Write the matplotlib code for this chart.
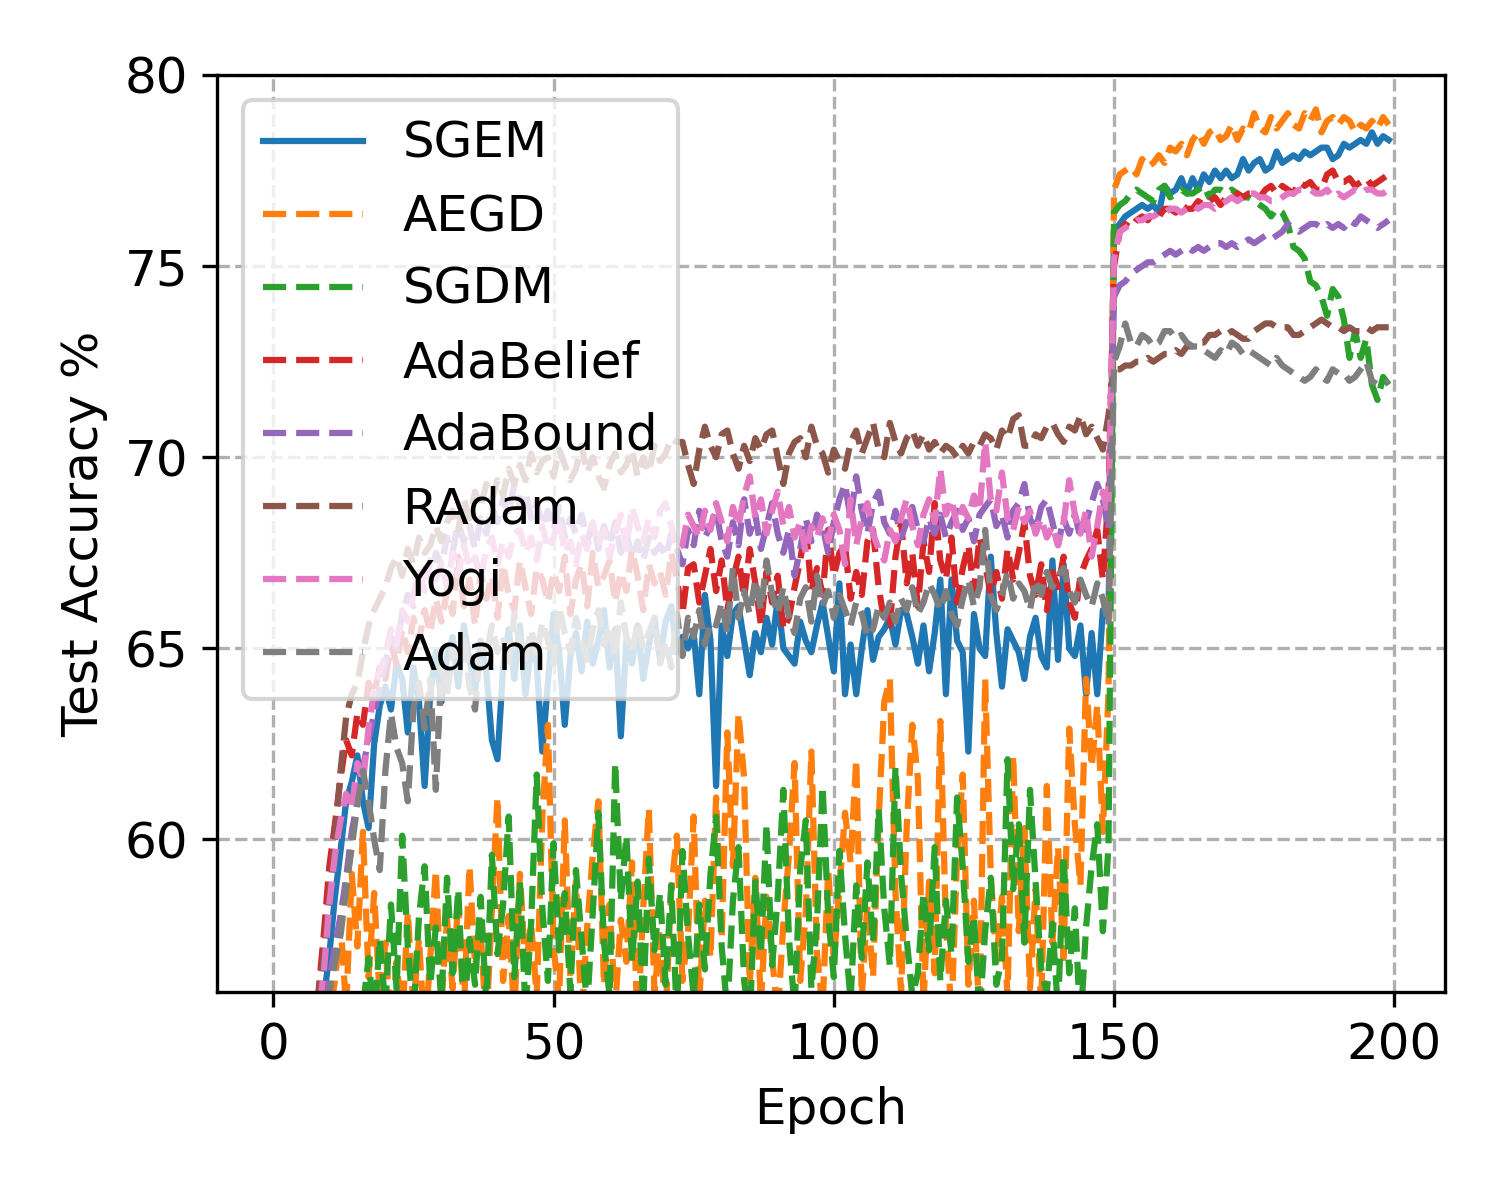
import numpy as np
import matplotlib
matplotlib.use("Agg")
from matplotlib import pyplot as plt

epochs = np.arange(200)

sgem = [
    20.0, 33.5, 40.2, 44.8, 48.1, 50.6, 52.4, 53.7, 54.8, 55.8,
    57.0, 58.5, 59.7, 61.0, 61.5, 62.2, 61.0, 60.3, 62.5, 63.5,
    64.0, 63.4, 64.6, 64.2, 62.8, 64.5, 63.6, 61.4, 63.8, 64.9,
    63.6, 64.8, 65.3, 64.0, 65.6, 64.7, 63.9, 65.2, 64.4, 62.6,
    62.1, 64.5, 65.5, 64.2, 65.6, 63.8, 65.0, 64.6, 62.3, 64.1,
    65.9, 64.9, 63.0, 64.8, 65.4, 64.4, 65.7, 64.6, 65.2, 66.0,
    64.5, 65.5, 62.7, 65.2, 64.6, 65.6, 64.2, 65.1, 65.8, 64.7,
    65.7, 66.1, 64.9, 65.3, 65.0, 65.4, 63.8, 66.4, 65.2, 61.4,
    65.6, 64.8, 65.9, 66.1, 65.2, 64.3, 65.4, 64.9, 65.8, 65.1,
    66.3, 65.0, 64.8, 64.6, 65.7, 65.2, 64.9, 65.6, 66.2, 65.3,
    64.4, 66.7, 63.8, 65.1, 63.8, 65.0, 66.0, 64.7, 65.3, 65.5,
    65.8, 65.1, 66.0, 65.9, 65.3, 64.6, 65.6, 64.4, 65.4, 66.8,
    63.8, 66.8, 65.2, 64.9, 62.3, 65.9, 65.0, 64.8, 67.4, 65.4,
    64.0, 65.5, 65.2, 64.9, 64.2, 65.3, 65.8, 64.8, 64.5, 67.3,
    64.7, 67.2, 65.0, 64.8, 65.6, 63.8, 65.4, 63.8, 66.0, 65.8,
    75.9, 76.1, 76.3, 76.4, 76.5, 76.6, 76.5, 76.6, 76.4, 77.1,
    76.9, 77.0, 77.3, 76.9, 77.3, 77.0, 77.4, 77.2, 77.5, 77.3,
    77.5, 77.3, 77.4, 77.8, 77.5, 77.7, 77.8, 77.5, 77.6, 78.0,
    77.7, 77.8, 77.9, 77.8, 78.0, 77.9, 78.0, 78.1, 78.1, 77.8,
    77.9, 78.2, 78.1, 78.2, 78.3, 78.2, 78.5, 78.2, 78.4, 78.3,
]

aegd = [
    15.0, 28.0, 35.0, 40.0, 44.0, 47.0, 49.5, 51.5, 53.0, 54.5,
    55.4, 56.3, 57.8, 55.6, 59.1, 57.2, 60.2, 56.4, 58.6, 55.8,
    57.3, 54.9, 56.8, 55.2, 58.1, 55.6, 57.4, 54.8, 56.9, 59.2,
    55.7, 57.9, 56.1, 58.4, 55.5, 59.3, 56.7, 57.6, 55.1, 58.2,
    61.1, 56.3, 58.0, 55.4, 59.1, 56.6, 57.8, 55.9, 60.6, 63.0,
    57.2, 55.8, 60.5, 56.4, 58.9, 55.3, 57.7, 59.6, 61.0, 56.2,
    58.3, 55.6, 57.9, 56.8, 59.4, 55.1, 58.2, 60.8, 56.0, 57.5,
    55.4, 58.7, 60.1, 56.3, 57.6, 60.6, 55.8, 58.4, 56.9, 61.1,
    57.4, 62.8, 59.3, 63.3, 61.6, 56.2, 59.0, 55.7, 58.5, 56.9,
    55.4, 57.8, 59.6, 62.0, 56.3, 58.1, 62.3, 57.0, 55.6, 59.2,
    56.8, 58.7, 60.7, 59.4, 62.1, 55.9, 58.3, 56.4, 60.5, 63.6,
    64.2, 58.6, 56.0, 60.3, 63.0, 61.6, 55.7, 58.9, 56.5, 63.1,
    57.8, 55.4, 59.6, 61.7, 56.2, 58.4, 55.3, 64.2, 59.1, 56.8,
    58.5, 55.9, 62.2, 57.6, 60.3, 56.1, 58.7, 55.6, 61.4, 57.3,
    59.8, 56.9, 62.9, 60.4, 58.8, 64.2, 61.9, 63.5, 60.2, 63.8,
    77.0, 77.4, 77.5, 77.6, 77.4, 77.8, 77.6, 77.7, 77.9, 77.7,
    78.1, 78.0, 78.2, 77.9, 78.3, 78.5, 78.2, 78.5, 78.6, 78.3,
    78.4, 78.7, 78.3, 78.6, 78.5, 79.0, 78.6, 78.5, 78.9, 78.6,
    78.8, 79.0, 78.7, 78.6, 79.0, 78.8, 79.1, 78.5, 78.8, 78.9,
    78.7, 78.9, 78.8, 78.5, 78.7, 78.6, 78.8, 78.6, 78.9, 78.7,
]

sgdm = [
    12.0, 25.0, 33.0, 38.0, 42.0, 45.0, 47.5, 49.5, 51.0, 52.0,
    52.8, 53.5, 54.2, 54.8, 55.3, 54.9, 55.6, 56.9, 55.2, 57.4,
    55.6, 58.3, 56.1, 60.1, 57.2, 55.4, 58.0, 59.3, 56.2, 57.7,
    55.8, 59.0, 56.5, 58.7, 55.3, 57.4, 56.2, 58.5, 55.7, 59.6,
    57.0, 58.3, 60.6, 56.4, 58.9, 55.5, 57.8, 61.7, 58.2, 56.3,
    59.9, 57.1, 58.6, 56.0, 59.2, 57.4, 55.6, 58.1, 60.7, 57.3,
    55.9, 62.0, 58.4, 60.1, 56.8, 58.9, 55.7, 59.5, 57.1, 58.6,
    56.2, 58.8, 55.4, 59.7, 57.5, 55.9, 58.3, 56.6, 59.1, 60.6,
    57.2, 55.5, 58.4, 59.8, 56.3, 55.2, 58.9, 57.0, 60.4, 56.7,
    58.5, 61.3, 57.4, 55.6, 59.2, 60.5, 56.1, 57.8, 61.4, 58.0,
    56.4, 59.7, 57.5, 55.8, 58.8, 56.9, 59.4, 57.3, 60.8, 58.2,
    56.7, 61.9, 59.1, 57.4, 55.9, 56.5, 58.6, 57.1, 59.8, 56.3,
    58.4, 57.0, 61.1, 59.3, 56.8, 58.0, 55.4, 57.6, 59.0, 56.2,
    56.9, 62.1, 58.7, 60.4, 57.3, 61.3, 58.9, 56.6, 56.0, 57.8,
    55.5, 59.6, 56.5, 58.2, 55.1, 57.7, 59.3, 60.4, 57.6, 59.8,
    76.4, 76.6, 76.7, 76.9, 77.0, 76.9, 76.8, 76.7, 77.0, 77.1,
    76.8, 76.9, 77.0, 76.9, 76.9, 77.0, 77.1, 76.8, 77.0, 77.0,
    76.9, 77.0, 76.9, 76.8, 76.8, 76.7, 76.6, 76.5, 76.3, 76.5,
    76.4, 76.1, 75.5, 75.4, 75.2, 74.6, 74.5, 74.2, 73.7, 74.4,
    74.2, 73.6, 72.6, 73.3, 72.6, 73.1, 71.9, 71.5, 72.1, 71.9,
]

adabelief = [
    22.0, 36.0, 43.0, 47.5, 50.5, 52.5, 54.0, 55.0, 55.9, 57.5,
    59.3, 60.4, 61.6, 62.6, 62.2, 63.3, 63.0, 64.1, 63.8, 64.5,
    64.2, 65.1, 64.6, 65.5, 64.9, 65.8, 65.2, 66.0, 65.4, 66.3,
    65.7, 66.5, 65.9, 67.4, 66.1, 66.8, 65.6, 67.0, 66.3, 66.9,
    65.8, 67.2, 66.4, 66.0, 67.3, 66.6, 65.9, 67.1, 66.8, 66.2,
    67.0, 66.5, 67.4, 65.9, 66.8, 67.2, 66.1, 67.5, 66.6, 66.9,
    67.3, 66.2, 67.0, 66.5, 67.6, 66.9, 66.0, 67.2, 66.7, 67.0,
    66.4, 67.5, 66.8, 65.9, 67.1, 67.2, 66.2, 66.9, 67.6, 66.5,
    67.3, 66.0, 66.8, 67.4, 66.3, 67.6, 66.7, 65.6, 67.0, 66.2,
    66.9, 65.5, 65.8, 66.6, 67.3, 68.2, 66.5, 67.1, 66.4, 68.1,
    66.9, 67.5, 67.7, 66.3, 67.0, 66.4, 67.8, 68.1, 66.6, 65.7,
    65.6, 67.4, 68.3, 66.7, 67.5, 66.1, 67.8, 67.0, 68.8, 67.3,
    66.8, 67.9, 66.2, 67.1, 67.7, 66.5, 67.9, 67.2, 66.4, 67.0,
    66.3, 67.6, 66.8, 67.5, 68.3, 66.9, 66.4, 67.2, 66.0, 67.0,
    66.6, 67.4, 66.2, 65.8, 66.9, 67.3, 67.6, 68.1, 66.8, 69.0,
    75.0, 75.9, 76.1, 76.0, 76.2, 76.3, 76.2, 76.4, 76.3, 76.5,
    76.5, 76.4, 76.6, 76.5, 76.5, 76.7, 76.6, 76.7, 76.8, 76.6,
    76.8, 76.7, 76.9, 76.8, 76.9, 76.9, 76.8, 77.0, 77.1, 76.9,
    77.1, 77.0, 76.9, 77.2, 77.1, 77.2, 77.0, 77.0, 77.4, 77.5,
    77.2, 77.2, 77.3, 77.1, 77.2, 77.3, 77.1, 77.2, 77.3, 77.4,
]

adabound = [
    18.0, 31.0, 38.5, 43.0, 46.5, 49.0, 51.0, 52.8, 54.2, 55.3,
    56.3, 57.2, 58.0, 59.0, 60.2, 61.0, 61.9, 62.6, 63.3, 64.0,
    64.6, 65.3, 65.0, 65.9, 66.4, 66.1, 66.9, 67.2, 66.8, 67.5,
    67.2, 67.9, 67.5, 68.3, 67.8, 68.2, 67.6, 68.4, 68.0, 68.7,
    68.3, 68.9, 68.5, 69.3, 68.7, 69.1, 68.4, 68.8, 68.2, 68.6,
    68.1, 68.7, 67.9, 68.4, 68.0, 68.5, 67.8, 68.3, 67.6, 68.2,
    67.7, 68.3, 67.5, 68.0, 67.4, 67.8, 67.3, 67.9, 67.5, 67.7,
    67.4, 68.0, 67.6, 67.2, 68.1, 67.7, 68.6, 67.9, 68.2, 68.6,
    67.8, 67.4, 68.3, 67.7, 68.9, 68.0, 68.5, 67.6, 68.2, 68.8,
    68.0, 67.5, 68.1, 66.9, 67.6, 68.4, 67.8, 68.5, 68.2, 67.5,
    68.3, 68.9, 69.3, 68.4, 69.5, 68.6, 68.0, 68.8, 69.1, 68.3,
    68.0, 68.6, 67.9, 68.3, 68.7, 68.1, 67.8, 68.4, 68.0, 68.5,
    67.9, 68.3, 68.6, 68.1, 68.4, 67.8, 68.5, 68.7, 68.9, 68.2,
    68.5, 67.9, 68.6, 68.8, 69.3, 68.4, 68.1, 68.7, 68.9, 68.3,
    67.7, 68.4, 68.0, 68.5, 67.9, 68.3, 68.8, 69.3, 68.9, 68.1,
    74.2, 74.5, 74.6, 74.8, 74.9, 75.0, 75.1, 75.1, 75.2, 75.3,
    75.4, 75.3, 75.4, 75.5, 75.4, 75.5, 75.4, 75.5, 75.6, 75.6,
    75.5, 75.6, 75.5, 75.6, 75.7, 75.6, 75.7, 75.8, 75.7, 75.8,
    75.9, 76.1, 76.0, 75.9, 76.0, 76.1, 76.1, 76.0, 76.1, 76.0,
    76.1, 76.0, 76.2, 76.1, 76.3, 76.2, 76.1, 76.0, 76.1, 76.2,
]

radam = [
    26.0, 39.0, 45.5, 49.5, 52.0, 53.6, 54.6, 55.2, 55.8, 57.0,
    58.5, 60.0, 61.8, 63.2, 63.8, 64.1, 64.9, 65.6, 66.0, 66.3,
    66.6, 67.1, 67.4, 66.9, 67.6, 67.2, 67.9, 67.5, 67.7, 68.2,
    67.8, 68.3, 68.6, 68.1, 68.9, 68.4, 69.1, 68.7, 69.3, 68.9,
    69.4, 69.0, 69.7, 69.3, 69.8, 69.4, 70.1, 69.6, 69.9, 70.0,
    69.5, 70.2, 69.8, 69.4, 69.7, 70.3, 69.6, 70.0, 69.5, 69.2,
    69.8, 70.1, 69.6, 69.8, 70.2, 69.5, 70.0, 69.6, 70.3, 69.9,
    70.1, 70.5, 70.4, 70.4, 69.8, 69.3, 70.2, 70.8, 70.3, 70.0,
    70.6, 70.7, 70.1, 69.7, 70.3, 69.9, 70.5, 70.2, 70.6, 70.7,
    70.0, 69.3, 70.1, 70.4, 70.5, 70.0, 70.8, 70.3, 70.1, 69.6,
    70.2, 69.9, 69.7, 70.4, 70.7, 70.1, 70.5, 70.9, 70.2, 70.0,
    70.9, 70.4, 70.1, 70.5, 70.7, 70.3, 70.6, 70.2, 70.4, 70.1,
    70.3, 70.2, 70.0, 70.3, 70.1, 70.4, 70.3, 70.6, 70.5, 70.2,
    70.7, 70.5, 71.0, 71.1, 70.3, 70.3, 70.6, 70.5, 70.8, 70.9,
    70.6, 70.4, 70.8, 70.7, 71.1, 70.6, 70.8, 70.5, 70.2, 71.1,
    72.3, 72.3, 72.4, 72.4, 72.5, 72.5, 72.6, 72.5, 72.6, 72.7,
    72.7, 72.8, 72.7, 72.9, 72.9, 73.0, 73.0, 73.2, 73.2, 73.3,
    73.2, 73.3, 73.2, 73.1, 73.1, 73.3, 73.4, 73.5, 73.5, 73.4,
    73.4, 73.4, 73.2, 73.2, 73.3, 73.4, 73.5, 73.6, 73.5, 73.4,
    73.4, 73.3, 73.4, 73.3, 73.3, 73.4, 73.3, 73.4, 73.4, 73.4,
]

yogi = [
    21.0, 35.0, 42.0, 46.5, 49.5, 51.8, 53.3, 54.4, 55.3, 56.5,
    58.3, 59.6, 60.5, 61.2, 60.8, 62.0, 61.5, 62.9, 63.9, 64.4,
    64.8, 65.5, 65.1, 66.0, 65.7, 66.4, 67.0, 66.5, 67.3, 66.8,
    67.2, 66.6, 67.5, 66.9, 67.7, 67.1, 67.4, 66.8, 67.6, 67.9,
    67.2, 67.8, 67.4, 68.0, 68.1, 67.5, 67.9, 67.3, 68.2, 67.6,
    67.9, 68.4, 67.5, 67.8, 67.2, 68.0, 67.6, 68.3, 67.7, 68.1,
    67.4, 68.0, 68.5, 67.6, 68.7, 68.2, 67.8, 68.4, 67.9, 68.6,
    68.8, 68.2, 67.6, 67.7, 68.5, 68.2, 67.9, 68.6, 68.1, 68.8,
    68.3, 67.8, 68.7, 68.2, 69.0, 69.5, 68.4, 68.9, 68.0, 68.6,
    69.1, 68.2, 68.7, 67.9, 68.3, 67.5, 68.2, 67.9, 68.4, 67.8,
    68.5, 68.1, 67.2, 68.9, 67.7, 68.4, 68.8, 68.0, 67.6, 67.3,
    68.1, 67.8, 68.4, 68.9, 68.2, 67.7, 68.5, 68.9, 68.3, 69.7,
    68.5, 68.9, 68.2, 68.7, 68.4, 69.0, 68.6, 70.4, 68.9, 68.6,
    69.6, 68.4, 68.1, 68.7, 68.3, 68.6, 68.0, 68.4, 67.9, 68.2,
    67.7, 68.3, 69.4, 68.5, 68.0, 68.6, 67.4, 68.2, 69.1, 68.5,
    75.2, 75.9, 76.0, 76.1, 76.2, 76.2, 76.3, 76.3, 76.4, 76.4,
    76.5, 76.5, 76.4, 76.5, 76.6, 76.5, 76.6, 76.6, 76.5, 76.6,
    76.7, 76.8, 76.7, 76.8, 76.9, 76.9, 76.8, 76.8, 76.7, 76.7,
    76.8, 76.9, 76.9, 77.0, 77.0, 77.0, 76.9, 76.9, 77.0, 76.8,
    76.9, 76.8, 76.9, 77.0, 76.9, 77.0, 77.0, 76.9, 76.9, 77.0,
]

adam = [
    14.0, 28.0, 36.0, 41.5, 45.5, 48.5, 50.8, 52.6, 54.0, 55.1,
    56.0, 56.8, 57.5, 58.7, 59.8, 60.9, 61.8, 61.0, 60.0, 59.2,
    61.8, 63.3, 62.4, 62.0, 61.0, 63.4, 64.1, 62.9, 64.2, 61.3,
    64.5, 63.8, 65.0, 64.6, 65.4, 64.0, 63.4, 65.2, 64.8, 65.6,
    64.9, 65.3, 64.5, 65.9, 65.1, 64.7, 65.5, 64.8, 65.7, 65.2,
    64.6, 66.1, 65.4, 64.9, 65.8, 65.2, 64.7, 65.5, 66.0, 65.1,
    65.6, 64.8, 66.2, 65.3, 64.9, 65.7, 65.0, 65.4, 65.8, 64.6,
    65.2, 64.5, 65.9, 64.8, 65.8, 65.3, 66.0, 65.1, 65.7, 65.6,
    66.2, 65.4, 67.1, 65.8, 66.5, 65.9, 66.8, 66.0, 67.3, 66.4,
    65.9, 66.6, 65.8, 65.4, 66.3, 66.6, 65.7, 66.9, 66.1, 66.5,
    65.8, 66.4, 66.0, 65.6, 66.2, 65.9, 65.3, 65.5, 66.1, 65.8,
    66.2, 65.7, 66.3, 66.0, 66.6, 65.9, 66.2, 66.7, 66.4, 66.0,
    66.5, 65.9, 65.6, 66.3, 66.8, 66.1, 66.6, 68.1, 66.4, 66.0,
    66.4, 67.0, 66.3, 66.7, 66.5, 66.0, 66.8, 66.4, 67.0, 66.6,
    66.9, 67.1, 66.5, 66.2, 66.8, 66.4, 66.1, 66.7, 66.3, 65.6,
    72.5, 72.9, 73.5, 73.0, 72.9, 73.2, 73.1, 72.9, 73.0, 73.3,
    73.3, 73.1, 73.2, 73.0, 72.9, 72.9, 72.8, 72.7, 72.6, 72.8,
    72.7, 73.0, 72.9, 72.7, 72.8, 72.7, 72.6, 72.5, 72.4, 72.6,
    72.4, 72.3, 72.2, 72.1, 72.0, 72.1, 72.3, 72.1, 72.0, 72.3,
    72.2, 72.2, 72.0, 72.1, 72.3, 72.5, 72.0, 71.9, 71.9, 72.0,
]

series = [
    ("SGEM", sgem, "-"),
    ("AEGD", aegd, "--"),
    ("SGDM", sgdm, "--"),
    ("AdaBelief", adabelief, "--"),
    ("AdaBound", adabound, "--"),
    ("RAdam", radam, "--"),
    ("Yogi", yogi, "--"),
    ("Adam", adam, "--"),
]

plt.rcParams["font.size"] = 12

fig, ax = plt.subplots(figsize=(5, 4), dpi=300)
fig.subplots_adjust(left=0.145, right=0.963, bottom=0.173, top=0.9375)

for i, (name, vals, ls) in enumerate(series):
    ax.plot(epochs, vals, ls, color=f"C{i}", lw=1.5, label=name)

ax.set_ylim(56, 80)
ax.set_xlabel("Epoch")
ax.set_ylabel("Test Accuracy %")
ax.grid(linestyle="--")
ax.legend(loc="upper left")

fig.savefig("out.png")
